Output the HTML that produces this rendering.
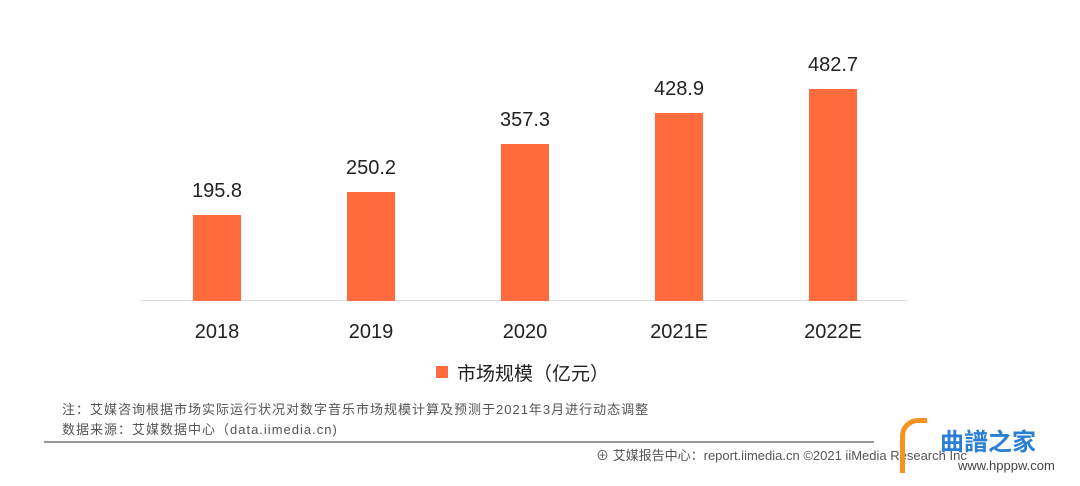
<!DOCTYPE html>
<html><head><meta charset="utf-8"><style>
body{margin:0;width:1080px;height:486px;background:#fff;position:relative;overflow:hidden;font-family:"Liberation Sans","Noto Sans CJK SC",sans-serif;}
.a{position:absolute;white-space:nowrap;}
.bar{position:absolute;background:#ff6b3d;width:48px;}
.v{position:absolute;width:120px;text-align:center;font-size:20px;color:#222;}
.y{position:absolute;width:120px;text-align:center;font-size:20px;color:#222;top:321px;}
</style></head><body>
<div class="a" style="left:140px;top:300px;width:768px;height:1px;background:#ddd"></div>
<div class="bar" style="left:193px;top:215px;height:86px"></div>
<div class="bar" style="left:347px;top:192px;height:109px"></div>
<div class="bar" style="left:501px;top:144px;height:157px"></div>
<div class="bar" style="left:655px;top:113px;height:188px"></div>
<div class="bar" style="left:809px;top:89px;height:212px"></div>
<div class="v" style="left:157px;top:180px">195.8</div>
<div class="v" style="left:311px;top:157px">250.2</div>
<div class="v" style="left:465px;top:109px">357.3</div>
<div class="v" style="left:619px;top:78px">428.9</div>
<div class="v" style="left:773px;top:54px">482.7</div>
<div class="y" style="left:157px">2018</div>
<div class="y" style="left:311px">2019</div>
<div class="y" style="left:465px">2020</div>
<div class="y" style="left:619px">2021E</div>
<div class="y" style="left:773px">2022E</div>
<div class="a" style="left:436px;top:366px;width:12px;height:12px;background:#ff6b3d"></div>
<div class="a" style="left:457px;top:359px;font-size:19px;color:#222">市场规模（亿元）</div>
<div class="a" style="left:62px;top:399px;font-size:13px;letter-spacing:1px;color:#555">注：艾媒咨询根据市场实际运行状况对数字音乐市场规模计算及预测于2021年3月进行动态调整</div>
<div class="a" style="left:62px;top:419px;font-size:13px;letter-spacing:1px;color:#555">数据来源：艾媒数据中心（data.iimedia.cn)</div>
<div class="a" style="left:44px;top:441px;width:830px;height:2px;background:#999"></div>
<div class="a" style="left:596px;top:445px;font-size:13px;color:#555">⊕ 艾媒报告中心：report.iimedia.cn ©2021 iiMedia Research Inc</div>
<div class="a" style="left:900px;top:418px;width:22px;height:50px;border:5px solid #f7931e;border-right:none;border-bottom:none;border-radius:18px 0 0 0"></div>
<div class="a" style="left:940px;top:422px;font-size:24px;color:#2a7fd4;font-weight:bold">曲譜之家</div>
<div class="a" style="left:958px;top:458px;font-size:13px;color:#444">www.hpppw.com</div>
</body></html>
